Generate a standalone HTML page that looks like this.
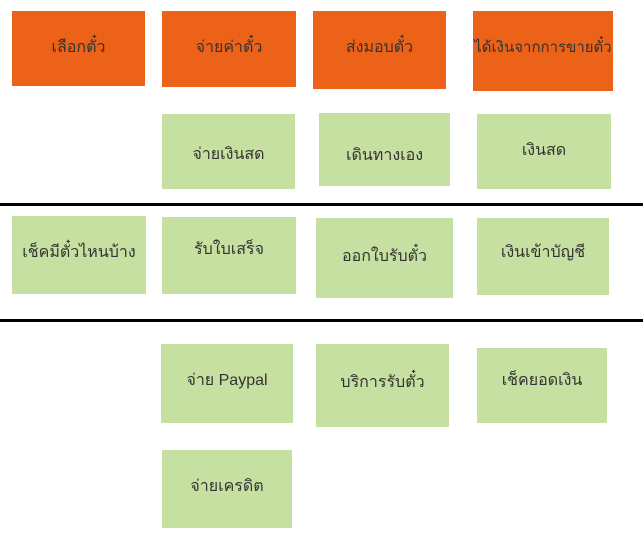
<!DOCTYPE html>
<html><head><meta charset="utf-8"><style>
html,body{margin:0;padding:0;background:#fff;width:643px;height:547px;overflow:hidden;position:relative;font-family:"Liberation Sans","DejaVu Sans",sans-serif;}
.b{position:absolute;display:flex;justify-content:center;color:#333;font-size:16px;box-sizing:border-box;padding-top:24px;white-space:nowrap;}
.o{background:#EC6219;}
.g{background:#C5E0A0;}
.l{position:absolute;left:0;width:643px;height:3px;background:#000;}
</style></head><body>
<div class="b o" style="left:12px;top:11px;width:133px;height:75px;">เลือกตั๋ว</div>
<div class="b o" style="left:162px;top:11px;width:134px;height:76px;">จ่ายค่าตั๋ว</div>
<div class="b o" style="left:313px;top:11px;width:133px;height:78px;">ส่งมอบตั๋ว</div>
<div class="b o" style="left:473px;top:11px;width:140px;height:80px;font-size:15px;">ได้เงินจากการขายตั๋ว</div>

<div class="b g" style="left:162px;top:114px;width:133px;height:75px;padding-top:28px;">จ่ายเงินสด</div>
<div class="b g" style="left:319px;top:113px;width:131px;height:73px;padding-top:30px;">เดินทางเอง</div>
<div class="b g" style="left:477px;top:114px;width:134px;height:75px;padding-top:24px;">เงินสด</div>

<div class="l" style="top:203px;"></div>

<div class="b g" style="left:12px;top:216px;width:134px;height:78px;padding-top:24px;">เช็คมีตั๋วไหนบ้าง</div>
<div class="b g" style="left:162px;top:217px;width:134px;height:77px;padding-top:20px;">รับใบเสร็จ</div>
<div class="b g" style="left:316px;top:218px;width:137px;height:80px;padding-top:26px;">ออกใบรับตั๋ว</div>
<div class="b g" style="left:477px;top:218px;width:132px;height:77px;padding-top:22px;">เงินเข้าบัญชี</div>

<div class="l" style="top:319px;"></div>

<div class="b g" style="left:161px;top:344px;width:132px;height:79px;padding-top:24px;">จ่าย Paypal</div>
<div class="b g" style="left:316px;top:344px;width:133px;height:83px;padding-top:26px;">บริการรับตั๋ว</div>
<div class="b g" style="left:477px;top:348px;width:130px;height:75px;padding-top:20px;">เช็คยอดเงิน</div>

<div class="b g" style="left:162px;top:450px;width:130px;height:78px;padding-top:24px;">จ่ายเครดิต</div>
</body></html>
